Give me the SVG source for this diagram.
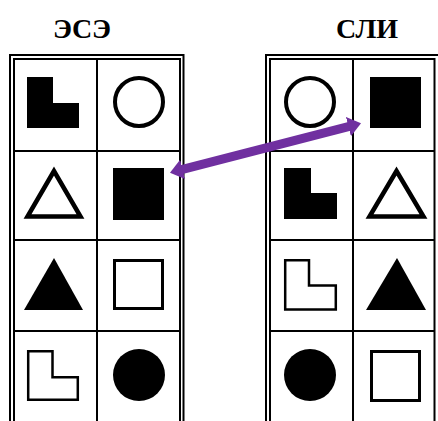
<svg xmlns="http://www.w3.org/2000/svg" width="438" height="421" viewBox="0 0 438 421">
  <style>
    .frame { fill: none; stroke: #000; stroke-width: 2; }
    .grid { stroke: #000; stroke-width: 2; }
    .fill { fill: #000; stroke: none; }
    .outline { fill: none; stroke: #000; stroke-width: 3; }
    .thick { fill: none; stroke: #000; stroke-width: 4; }
    .tri { fill: none; stroke: #000; stroke-width: 4.5; }
    .title { font-family: "Liberation Serif", "Times New Roman", serif; font-weight: bold; font-size: 28px; text-anchor: middle; fill: #000; }
  </style>
  <defs>
    <marker id="head" markerUnits="userSpaceOnUse" markerWidth="14" markerHeight="21" refX="1" refY="10" orient="auto-start-reverse" viewBox="0 0 14 20">
      <path d="M0,0 L13,10 L0,20 z" fill="#7030A0"/>
    </marker>
  </defs>
  <rect width="438" height="421" fill="#fff"/>

  <g id="title-ese"><text class="title" x="82" y="38">ЭСЭ</text></g>
  <g id="title-sli"><text class="title" x="367" y="38">СЛИ</text></g>

  <g id="table-ese">
    <rect class="frame" x="10" y="55" width="173.5" height="380"/>
    <rect class="frame" x="14" y="59" width="166" height="380"/>
    <line class="grid" x1="97" y1="59" x2="97" y2="421"/>
    <line class="grid" x1="14" y1="151" x2="180" y2="151"/>
    <line class="grid" x1="14" y1="240" x2="180" y2="240"/>
    <line class="grid" x1="14" y1="331" x2="180" y2="331"/>
  </g>

  <g id="table-sli">
    <rect class="frame" x="266" y="55" width="173" height="380"/>
    <rect class="frame" x="270" y="59" width="164.5" height="380"/>
    <line class="grid" x1="353" y1="59" x2="353" y2="421"/>
    <line class="grid" x1="270" y1="151" x2="434.5" y2="151"/>
    <line class="grid" x1="270" y1="240" x2="434.5" y2="240"/>
    <line class="grid" x1="270" y1="331" x2="434.5" y2="331"/>
  </g>

  <g id="ese-r1c1"><polygon class="fill" points="27,77 53,77 53,103 79,103 79,128 27,128"/></g>
  <g id="ese-r1c2"><circle class="thick" cx="139" cy="102" r="24"/></g>
  <g id="ese-r2c1"><polygon class="tri" points="54,171 27.5,216.5 80.5,216.5"/></g>
  <g id="ese-r2c2"><rect class="fill" x="113" y="168" width="51" height="52"/></g>
  <g id="ese-r3c1"><polygon class="fill" points="54,258 24,310 83,310"/></g>
  <g id="ese-r3c2"><rect class="outline" x="114.5" y="260.5" width="48" height="48"/></g>
  <g id="ese-r4c1"><polygon class="outline" style="stroke-width:2.5" points="28.2,351.2 52.5,351.2 52.5,377.2 77.8,377.2 77.8,399.8 28.2,399.8"/></g>
  <g id="ese-r4c2"><circle class="fill" cx="139" cy="375" r="26"/></g>

  <g id="sli-r1c1"><circle class="thick" cx="310" cy="102" r="24"/></g>
  <g id="sli-r1c2"><rect class="fill" x="370" y="77" width="51" height="51"/></g>
  <g id="sli-r2c1"><polygon class="fill" points="284,168 311,168 311,193 337,193 337,219 284,219"/></g>
  <g id="sli-r2c2"><polygon class="tri" points="396.5,171 369.5,216.5 423.5,216.5"/></g>
  <g id="sli-r3c1"><polygon class="outline" style="stroke-width:2.5" points="285.2,260.2 309,260.2 309,285.5 335.8,285.5 335.8,309.5 285.2,309.5"/></g>
  <g id="sli-r3c2"><polygon class="fill" points="397,258 366,310 426,310"/></g>
  <g id="sli-r4c1"><circle class="fill" cx="310" cy="375" r="26"/></g>
  <g id="sli-r4c2"><rect class="outline" x="371.5" y="351.5" width="48" height="49"/></g>

  <g id="connectors">
    <line x1="181.6" y1="169.7" x2="349.4" y2="126.3" stroke="#7030A0" stroke-width="9" marker-start="url(#head)" marker-end="url(#head)"/>
  </g>
</svg>
